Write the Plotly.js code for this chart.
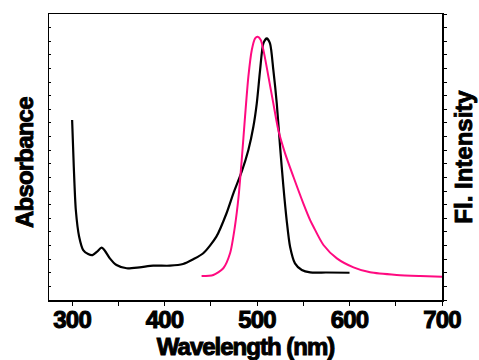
<!DOCTYPE html>
<html>
<head>
<meta charset="utf-8">
<script src="https://cdn.plot.ly/plotly-3.0.1.min.js"></script>
<style>
html,body{margin:0;padding:0;background:#fff;}
#chart{width:479px;height:360px;}
.xtitle{letter-spacing:-1px; stroke:#000 !important; stroke-width:1px !important;}
.y2title{stroke:#000 !important; stroke-width:0.9px !important;}
.annotation-text{letter-spacing:-0.8px; stroke:#000 !important; stroke-width:0.9px !important;}
.xtick text{letter-spacing:-0.8px; stroke:#000 !important; stroke-width:1px !important;}
</style>
</head>
<body>
<div id="chart"></div>
<script>
// Absorbance (black)
const absWavelength = [300, 301.8, 304, 307.6, 312, 317.3, 322, 327, 331.8, 335.4, 340.8, 348, 359, 373, 387.7, 405.8, 420, 431, 441.8, 456, 467, 474.4, 483.4, 490.6, 496, 499.7, 503.3, 506.8, 510.5, 514, 517.6, 521.3, 524.9, 528.5, 532, 535.7, 541, 548.4, 557.4, 575, 600];
const absValues = [13.22, 9.79, 6.61, 4.65, 3.67, 3.38, 3.30, 3.55, 3.84, 3.62, 3.06, 2.57, 2.33, 2.40, 2.52, 2.52, 2.64, 2.99, 3.43, 4.65, 6.37, 7.83, 9.42, 11.01, 12.72, 14.44, 16.89, 18.85, 19.21, 18.85, 16.89, 14.44, 11.26, 8.32, 5.87, 3.91, 2.69, 2.20, 2.03, 2.02, 2.00];
// Fluorescence (pink)
const flWavelength = [440, 452.7, 463.5, 470.8, 476, 480, 483.4, 487, 490.6, 494.3, 497.9, 500.7, 504, 507.6, 512.3, 517.6, 523, 530.3, 539.3, 550, 557.4, 561, 571.8, 586.3, 604.3, 622.3, 651, 676.5, 700];
const flValues = [1.76, 1.84, 2.33, 3.43, 5.38, 7.58, 10.28, 13.46, 16.40, 18.36, 19.21, 19.33, 19.09, 18.11, 16.40, 14.44, 12.48, 10.77, 9.05, 7.10, 5.87, 5.38, 4.04, 3.06, 2.40, 2.03, 1.84, 1.76, 1.71];
const xTickVals = [300, 400, 500, 600, 700];
const xTickText = ['300', '400', '500', '600', '700'];

const font = {family: 'Liberation Sans, Arial, sans-serif', color: '#000', weight: 'bold'};

const traces = [
  {x: absWavelength, y: absValues, type: 'scatter', mode: 'lines',
   line: {color: '#000000', width: 2.2, shape: 'spline', smoothing: 0.7}, yaxis: 'y', hoverinfo: 'skip'},
  {x: flWavelength, y: flValues, type: 'scatter', mode: 'lines',
   line: {color: '#FF0A80', width: 2, shape: 'spline', smoothing: 0.7}, yaxis: 'y2', hoverinfo: 'skip'}
];

const layout = {
  width: 479, height: 360,
  margin: {l: 49, r: 37, t: 14, b: 60, pad: 0},
  paper_bgcolor: '#fff', plot_bgcolor: '#fff',
  showlegend: false,
  font: Object.assign({size: 24}, font),
  xaxis: {
    range: [275, 700], tickvals: xTickVals, ticktext: xTickText,
    ticks: 'outside', ticklen: 4, tickwidth: 1, tickcolor: '#000',
    ticklabelstandoff: -6,
    minor: {dtick: 50, tick0: 0, ticks: 'outside', ticklen: 4, tickwidth: 1, tickcolor: '#000'},
    showgrid: false, zeroline: false,
    showline: true, linecolor: '#000', linewidth: 1.5, mirror: true,
    tickfont: Object.assign({size: 24}, font),
    title: {text: 'Wavelength (nm)', font: Object.assign({size: 24}, font), standoff: 2}
  },
  yaxis: {
    range: [0, 21], dtick: 1, tick0: 0, showticklabels: false,
    ticks: 'inside', ticklen: 2, tickwidth: 1, tickcolor: '#000',
    showgrid: false, zeroline: false,
    showline: true, linecolor: '#000', linewidth: 1.5
  },
  yaxis2: {
    range: [0, 21], dtick: 1, tick0: 0, showticklabels: false, overlaying: 'y', side: 'right',
    ticks: 'outside', ticklen: 3, tickwidth: 1, tickcolor: '#000',
    showgrid: false, zeroline: false,
    showline: true, linecolor: '#000', linewidth: 1.5,
    title: {text: 'Fl. Intensity', font: Object.assign({size: 24}, font), standoff: 9}
  },
  annotations: [{
    text: 'Absorbance', textangle: -90, showarrow: false,
    xref: 'paper', yref: 'paper', x: -0.064, y: 0.482,
    xanchor: 'center', yanchor: 'middle',
    font: Object.assign({size: 24}, font)
  }]
};

Plotly.newPlot('chart', traces, layout, {staticPlot: true, displayModeBar: false});
</script>
</body>
</html>
